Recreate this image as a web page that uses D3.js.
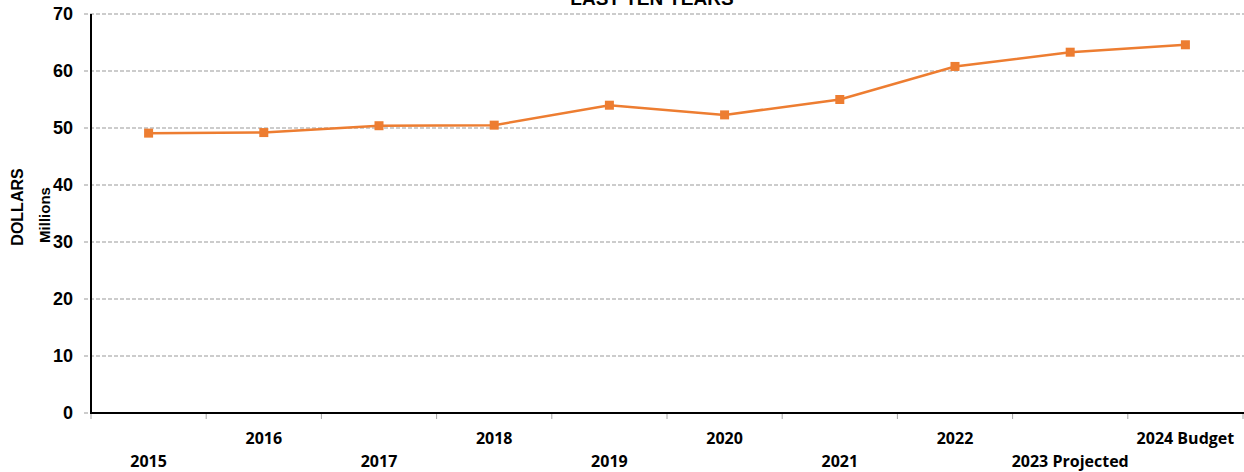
<!DOCTYPE html>
<html>
<head>
<meta charset="utf-8">
<script src="https://cdn.jsdelivr.net/npm/d3@7"></script>
<style>
  body { margin: 0; background: #fff; }
  svg { display: block; }
</style>
</head>
<body>
<div id="chart"></div>
<script>
// data (millions of dollars)
const years = ["2015", "2016", "2017", "2018", "2019", "2020", "2021", "2022", "2023 Projected", "2024 Budget"];
const dollars = [49.1, 49.2, 50.4, 50.5, 54.0, 52.3, 55.0, 60.8, 63.3, 64.6];
const yTicks = [0, 10, 20, 30, 40, 50, 60, 70];

const width = 1244, height = 472;
const plotLeft = 91, plotRight = 1243, plotTop = 14, plotBottom = 413;

var svg = d3
  .select("#chart")
  .append("svg")
  .attr("width", width)
  .attr("height", height);

var x = d3.scaleBand().domain(years).range([plotLeft, plotRight]);
var y = d3.scaleLinear().domain([0, 70]).range([plotBottom, plotTop]);

//Gridlines
svg
  .append("g")
  .selectAll("line")
  .data(yTicks)
  .join("line")
  .attr("x1", plotLeft - 7)
  .attr("x2", width)
  .attr("y1", (d) => y(d))
  .attr("y2", (d) => y(d))
  .attr("stroke", "#999")
  .attr("stroke-width", 1)
  .attr("stroke-dasharray", "4,2");

//Y tick labels
svg
  .append("g")
  .selectAll("text")
  .data(yTicks)
  .join("text")
  .attr("x", plotLeft - 18)
  .attr("y", (d) => y(d) + 6)
  .attr("text-anchor", "end")
  .attr("font-family", "Liberation Sans, Arial, sans-serif")
  .attr("font-weight", "bold")
  .attr("font-size", 18)
  .text((d) => d);

//X tick marks at band edges
var edges = years.map((d) => x(d)).concat([plotRight]);
svg
  .append("g")
  .selectAll("line")
  .data(edges)
  .join("line")
  .attr("x1", (d) => d)
  .attr("x2", (d) => d)
  .attr("y1", plotBottom)
  .attr("y2", plotBottom + 6)
  .attr("stroke", "#a6a6a6")
  .attr("stroke-width", 1);

//Axes lines
svg
  .append("line")
  .attr("x1", plotLeft)
  .attr("x2", width)
  .attr("y1", plotBottom)
  .attr("y2", plotBottom)
  .attr("stroke", "black")
  .attr("stroke-width", 2);

svg
  .append("line")
  .attr("x1", plotLeft)
  .attr("x2", plotLeft)
  .attr("y1", plotTop)
  .attr("y2", plotBottom + 1)
  .attr("stroke", "black")
  .attr("stroke-width", 2);

//X labels, staggered in two rows
svg
  .append("g")
  .selectAll("text")
  .data(years)
  .join("text")
  .attr("x", (d) => x(d) + x.bandwidth() / 2)
  .attr("y", (d, i) => (i % 2 == 0 ? 467 : 444))
  .attr("text-anchor", "middle")
  .attr("font-family", "Open Sans, sans-serif")
  .attr("font-weight", "bold")
  .attr("font-size", 16)
  .text((d) => d);

//Line + markers
var line = d3
  .line()
  .x((d, i) => x(years[i]) + x.bandwidth() / 2)
  .y((d) => y(d));

svg
  .append("path")
  .datum(dollars)
  .attr("d", line)
  .attr("fill", "none")
  .attr("stroke", "#ED7D31")
  .attr("stroke-width", 2.5);

svg
  .append("g")
  .selectAll("rect")
  .data(dollars)
  .join("rect")
  .attr("x", (d, i) => x(years[i]) + x.bandwidth() / 2 - 4.5)
  .attr("y", (d) => y(d) - 4.5)
  .attr("width", 9)
  .attr("height", 9)
  .attr("fill", "#ED7D31");

//Title (cut off at top, as in the original)
svg
  .append("text")
  .attr("x", 652)
  .attr("y", 5)
  .attr("text-anchor", "middle")
  .attr("font-family", "Liberation Sans, Arial, sans-serif")
  .attr("font-weight", "bold")
  .attr("font-size", 19)
  .text("LAST TEN YEARS");

//Axis titles
svg
  .append("text")
  .attr("transform", "translate(23,207) rotate(-90)")
  .attr("text-anchor", "middle")
  .attr("font-family", "Liberation Sans, Arial, sans-serif")
  .attr("font-weight", "bold")
  .attr("font-size", 16)
  .text("DOLLARS");

svg
  .append("text")
  .attr("transform", "translate(50,215) rotate(-90)")
  .attr("text-anchor", "middle")
  .attr("font-family", "Liberation Sans, Arial, sans-serif")
  .attr("font-weight", "bold")
  .attr("font-size", 15)
  .text("Millions");
</script>
</body>
</html>
